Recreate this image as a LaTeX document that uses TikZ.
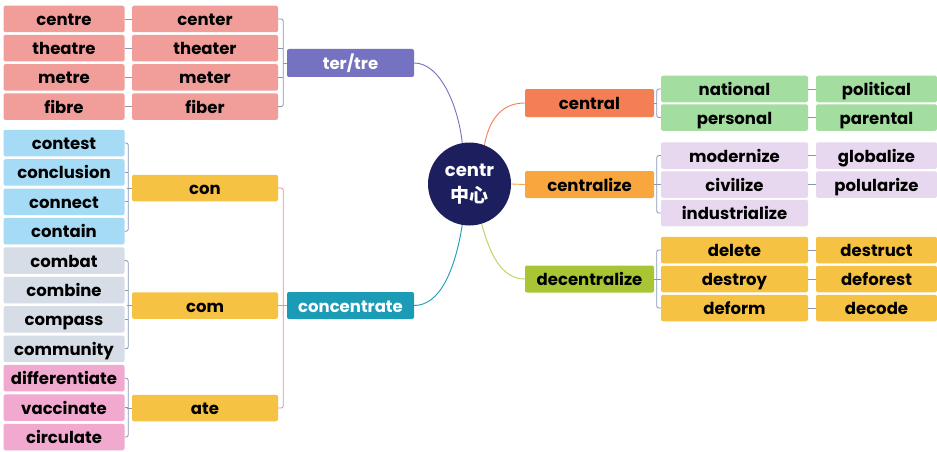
\documentclass[tikz,border=0pt]{standalone}
\usepackage{fontspec}
\setmainfont{Poppins}
\newfontfamily\cjk{Noto Sans CJK SC}
\usetikzlibrary{calc}
\definecolor{cRed}{HTML}{F19E9B}
\definecolor{cPurp}{HTML}{7572C1}
\definecolor{cBlue}{HTML}{A6DBF5}
\definecolor{cGray}{HTML}{D6DDE7}
\definecolor{cPink}{HTML}{F2A9D0}
\definecolor{cYel}{HTML}{F6C244}
\definecolor{cTeal}{HTML}{1B9BB6}
\definecolor{cNavy}{HTML}{1C1E5E}
\definecolor{cCentral}{HTML}{F47F54}
\definecolor{cCentz}{HTML}{F8A63D}
\definecolor{cDecent}{HTML}{A8C634}
\definecolor{cDecentL}{HTML}{B9D160}
\definecolor{cGreen}{HTML}{A4DDA0}
\definecolor{cLav}{HTML}{E8D8EF}
\definecolor{cLine}{HTML}{8797B8}
\definecolor{cLineR}{HTML}{E8908E}
\tikzset{
  bx/.style={rectangle, rounded corners=2pt, minimum height=26.5pt, inner sep=0pt,
    text height=13pt, text depth=0pt,
    font=\bfseries\fontsize{16.5}{18}\selectfont},
  wbx/.style={bx, text=white},
  ln/.style={draw=cLine, line width=0.8pt},
  lnr/.style={draw=cLineR, line width=0.8pt},
  brk/.style={rounded corners=2pt}
}
\begin{document}
\begin{tikzpicture}[x=1pt,y=-1pt]
\useasboundingbox (0,0) rectangle (937,452);
\fill[white] (0,0) rectangle (937,452);

% left red columns
\foreach \n/\t [count=\i from 0] in {centre/centre,theatre/theatre,metre/metre,fibre/fibre}
  \node[bx,fill=cRed,minimum width=121] (\n) at (64,19+29.2*\i) {\t};
\foreach \n/\t [count=\i from 0] in {center/center,theater/theater,meter/meter,fiber/fiber}
  \node[bx,fill=cRed,minimum width=146] (\n) at (205,19+29.2*\i) {\t};
\node[wbx,fill=cPurp,minimum width=127,minimum height=28] (tertre) at (350.5,63) {ter/tre};

% left column words
\foreach \n/\c [count=\i from 0] in {contest/cBlue,conclusion/cBlue,connect/cBlue,contain/cBlue,
  combat/cGray,combine/cGray,compass/cGray,community/cGray,
  differentiate/cPink,vaccinate/cPink,circulate/cPink}
  \node[bx,fill=\c,minimum width=121] (\n) at (64,143+29.4*\i) {\n};
\node[bx,fill=cYel,minimum width=146] (con) at (205,188) {con};
\node[bx,fill=cYel,minimum width=146] (com) at (205,305.5) {com};
\node[bx,fill=cYel,minimum width=146] (ate) at (205,408) {ate};
\node[wbx,fill=cTeal,minimum width=127,minimum height=27] (concentrate) at (350.5,305.5) {concentrate};

% hub
\node[circle,fill=cNavy,minimum size=83,inner sep=0pt,text=white,align=center,
  font=\bfseries\fontsize{18}{26}\selectfont] (hub) at (469.5,184) {centr\\{\cjk\bfseries\fontsize{19}{26}\selectfont 中心}};

% right second level
\node[bx,fill=cCentral,minimum width=129,minimum height=28] (central) at (589.5,103) {central};
\node[bx,fill=cCentz,minimum width=129,minimum height=27] (centralize) at (589.5,184.5) {centralize};
\node[bx,fill=cDecent,minimum width=129,minimum height=27] (decentralize) at (589.5,279) {decentralize};

% right words
\node[bx,fill=cGreen,minimum width=147] (national) at (734.5,89) {national};
\node[bx,fill=cGreen,minimum width=147] (personal) at (734.5,117.5) {personal};
\node[bx,fill=cGreen,minimum width=121] (political) at (876.5,89) {political};
\node[bx,fill=cGreen,minimum width=121] (parental) at (876.5,117.5) {parental};
\node[bx,fill=cLav,minimum width=147] (modernize) at (734.5,155.5) {modernize};
\node[bx,fill=cLav,minimum width=147] (civilize) at (734.5,184.5) {civilize};
\node[bx,fill=cLav,minimum width=147] (industrialize) at (734.5,213) {industrialize};
\node[bx,fill=cLav,minimum width=121] (globalize) at (876.5,155.5) {globalize};
\node[bx,fill=cLav,minimum width=121] (polularize) at (876.5,184.5) {polularize};
\node[bx,fill=cYel,minimum width=147] (delete) at (734.5,250) {delete};
\node[bx,fill=cYel,minimum width=147] (destroy) at (734.5,279) {destroy};
\node[bx,fill=cYel,minimum width=147] (deform) at (734.5,308) {deform};
\node[bx,fill=cYel,minimum width=121] (destruct) at (876.5,250) {destruct};
\node[bx,fill=cYel,minimum width=121] (deforest) at (876.5,279) {deforest};
\node[bx,fill=cYel,minimum width=121] (decode) at (876.5,308) {decode};

% red connectors
\draw[ln] (centre.east) -- (center.west);
\draw[ln] (theatre.east) -- (theater.west);
\draw[ln] (metre.east) -- (meter.west);
\draw[ln] (fibre.east) -- (fiber.west);
\draw[ln,brk] (center.east) -- ++(5,0) |- (fiber.east);
\draw[ln] (theater.east) -- ++(5,0);
\draw[ln] (meter.east) -- ++(5,0);
\draw[ln] (tertre.west) -- ++(-4,0);

% left brackets
\draw[ln,brk] (contest.east) -- ++(3.5,0) |- (contain.east);
\draw[ln] (conclusion.east) -- ++(3.5,0);
\draw[ln] (connect.east) -- ++(3.5,0);
\draw[ln] (con.west) -- ++(-4.5,0);
\draw[ln,brk] (combat.east) -- ++(3.5,0) |- (community.east);
\draw[ln] (combine.east) -- ++(3.5,0);
\draw[ln] (compass.east) -- ++(3.5,0);
\draw[ln] (com.west) -- ++(-4.5,0);
\draw[ln,brk] (differentiate.east) -- ++(3.5,0) |- (circulate.east);
\draw[ln] (vaccinate.east) -- ++(3.5,0);
\draw[ln] (ate.west) -- ++(-4.5,0);
\draw[lnr,brk] (con.east) -- ++(5,0) |- (ate.east);
\draw[lnr] (com.east) -- ++(5,0);
\draw[lnr] (concentrate.west) -- ++(-4,0);

% right brackets
\draw[ln,brk] (national.west) -- ++(-4,0) |- (personal.west);
\draw[ln] (central.east) -- ++(3,0);
\draw[ln,brk] (modernize.west) -- ++(-4,0) |- (industrialize.west);
\draw[ln] (civilize.west) -- ++(-4,0);
\draw[ln] (centralize.east) -- ++(3,0);
\draw[ln,brk] (delete.west) -- ++(-4,0) |- (deform.west);
\draw[ln] (destroy.west) -- ++(-4,0);
\draw[ln] (decentralize.east) -- ++(3,0);
\draw[ln] (national.east) -- (political.west);
\draw[ln] (personal.east) -- (parental.west);
\draw[ln] (modernize.east) -- (globalize.west);
\draw[ln] (civilize.east) -- (polularize.west);
\draw[ln] (delete.east) -- (destruct.west);
\draw[ln] (destroy.east) -- (deforest.west);
\draw[ln] (deform.east) -- (decode.west);

% hub curves
\draw[cPurp,line width=0.9pt] (tertre.east) .. controls (440,63) and (458,105) .. (hub.100);
\draw[cCentral,line width=0.9pt] (hub.69) .. controls (490,115) and (505,103) .. (central.west);
\draw[cCentz,line width=0.9pt] (hub.east) -- (centralize.west);
\draw[cDecentL,line width=0.9pt] (hub.-73) .. controls (490,255) and (502,279) .. (decentralize.west);
\draw[cTeal,line width=0.9pt] (hub.-100) .. controls (455,270) and (440,305.5) .. (concentrate.east);
\end{tikzpicture}
\end{document}
